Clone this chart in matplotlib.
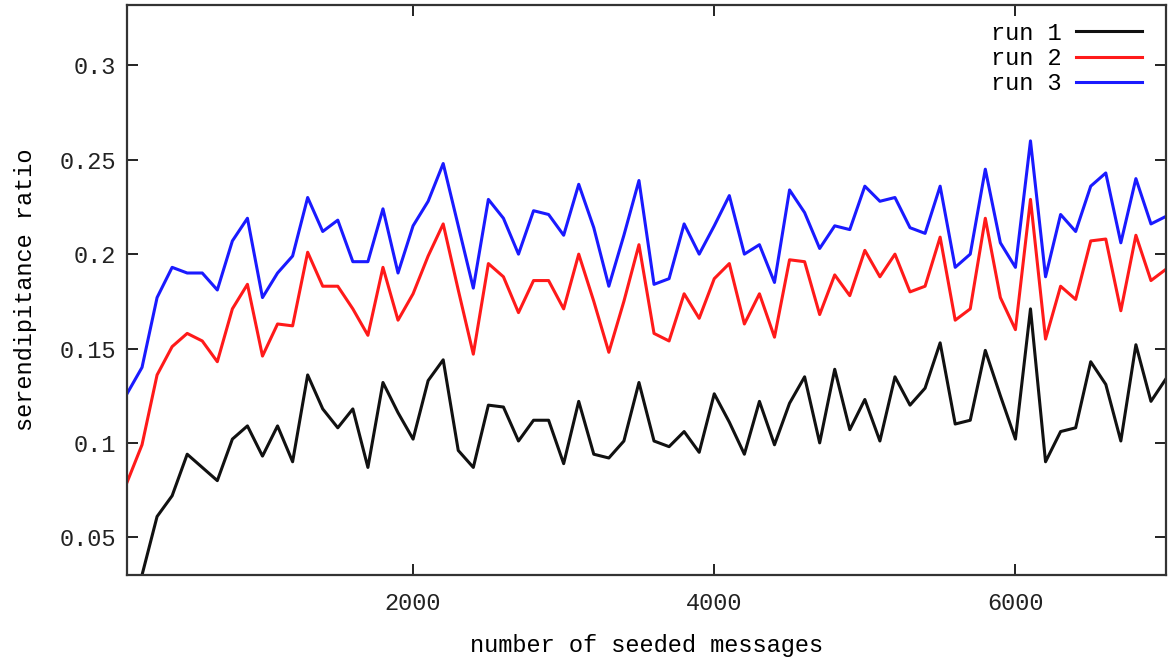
import numpy as np
import matplotlib
matplotlib.use("Agg")
import matplotlib.pyplot as plt

# number of seeded messages: 100, 200, ..., 7000
seeded = np.arange(100, 7001, 100)

run1 = [0.020, 0.030, 0.061, 0.072, 0.094, 0.087, 0.080, 0.102, 0.109, 0.093,
        0.109, 0.090, 0.136, 0.118, 0.108, 0.118, 0.087, 0.132, 0.116, 0.102,
        0.133, 0.144, 0.096, 0.087, 0.120, 0.119, 0.101, 0.112, 0.112, 0.089,
        0.122, 0.094, 0.092, 0.101, 0.132, 0.101, 0.098, 0.106, 0.095, 0.126,
        0.111, 0.094, 0.122, 0.099, 0.121, 0.135, 0.100, 0.139, 0.107, 0.123,
        0.101, 0.135, 0.120, 0.129, 0.153, 0.110, 0.112, 0.149, 0.125, 0.102,
        0.171, 0.090, 0.106, 0.108, 0.143, 0.131, 0.101, 0.152, 0.122, 0.134]

run2 = [0.079, 0.099, 0.136, 0.151, 0.158, 0.154, 0.143, 0.171, 0.184, 0.146,
        0.163, 0.162, 0.201, 0.183, 0.183, 0.171, 0.157, 0.193, 0.165, 0.179,
        0.199, 0.216, 0.181, 0.147, 0.195, 0.188, 0.169, 0.186, 0.186, 0.171,
        0.200, 0.175, 0.148, 0.175, 0.205, 0.158, 0.154, 0.179, 0.166, 0.187,
        0.195, 0.163, 0.179, 0.156, 0.197, 0.196, 0.168, 0.189, 0.178, 0.202,
        0.188, 0.200, 0.180, 0.183, 0.209, 0.165, 0.171, 0.219, 0.177, 0.160,
        0.229, 0.155, 0.183, 0.176, 0.207, 0.208, 0.170, 0.210, 0.186, 0.192]

run3 = [0.126, 0.140, 0.177, 0.193, 0.190, 0.190, 0.181, 0.207, 0.219, 0.177,
        0.190, 0.199, 0.230, 0.212, 0.218, 0.196, 0.196, 0.224, 0.190, 0.215,
        0.228, 0.248, 0.215, 0.182, 0.229, 0.219, 0.200, 0.223, 0.221, 0.210,
        0.237, 0.214, 0.183, 0.210, 0.239, 0.184, 0.187, 0.216, 0.200, 0.215,
        0.231, 0.200, 0.205, 0.185, 0.234, 0.222, 0.203, 0.215, 0.213, 0.236,
        0.228, 0.230, 0.214, 0.211, 0.236, 0.193, 0.200, 0.245, 0.206, 0.193,
        0.260, 0.188, 0.221, 0.212, 0.236, 0.243, 0.206, 0.240, 0.216, 0.220]

xticks = [2000, 4000, 6000]
yticks = [0.05, 0.1, 0.15, 0.2, 0.25, 0.3]
ytick_labels = ["0.05", "0.1", "0.15", "0.2", "0.25", "0.3"]

plt.rcParams['font.family'] = ['Liberation Mono', 'DejaVu Sans Mono']

fig = plt.figure(figsize=(11.68, 6.63), dpi=100)
ax = fig.add_axes([0.1087, 0.1327, 0.8896, 0.8598])

ax.plot(seeded, run1, color='#111111', linewidth=2.2, label="run 1")
ax.plot(seeded, run2, color='#ff1a1a', linewidth=2.2, label="run 2")
ax.plot(seeded, run3, color='#1a1aff', linewidth=2.2, label="run 3")

ax.set_xlim(100, 7000)
ax.set_ylim(0.03, 0.332)
ax.set_xticks(xticks)
ax.set_xticklabels([str(t) for t in xticks])
ax.set_yticks(yticks)
ax.set_yticklabels(ytick_labels)

ax.tick_params(direction='in', length=8, width=1.4, top=True, right=True,
               labelsize=17, colors='#222222')
ax.tick_params(axis='x', pad=12)
ax.tick_params(axis='y', pad=8)
for sp in ax.spines.values():
    sp.set_linewidth(1.6)
    sp.set_color('#333333')

ax.set_xlabel("number of seeded messages", fontsize=17, labelpad=14)
ax.set_ylabel("serendipitance ratio", fontsize=17, labelpad=16)

ax.legend(loc='upper right', frameon=False, markerfirst=False, fontsize=17,
          handlelength=2.8, handletextpad=0.6, labelspacing=0.1,
          borderaxespad=0.3, bbox_to_anchor=(0.993, 1.0))

fig.savefig("out.png", dpi=100)
